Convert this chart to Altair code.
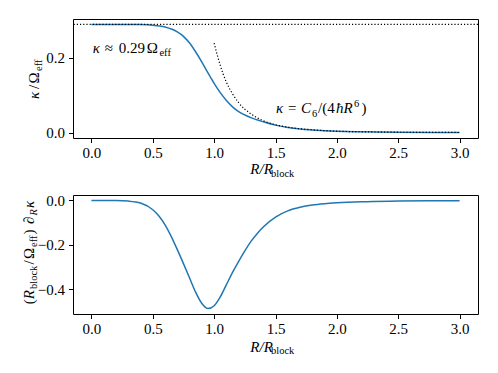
import altair as alt
import pandas as pd

# ---- data ----
R_TOP = [0.0, 0.2, 0.4, 0.5, 0.6, 0.7, 0.75, 0.8, 0.85, 0.9, 0.95, 1.0, 1.05, 1.1,
         1.15, 1.2, 1.3, 1.4, 1.5, 1.6, 1.7, 1.8, 2.0, 2.2, 2.5, 2.8, 3.0]
KAPPA = [0.290, 0.290, 0.2895, 0.288, 0.283, 0.270, 0.258, 0.240, 0.216, 0.189, 0.160,
         0.132, 0.107, 0.086, 0.069, 0.056, 0.040, 0.029, 0.020, 0.0135, 0.0097,
         0.0072, 0.0037, 0.0022, 0.0009, 0.0005, 0.0003]

R_ASYM = [1.0, 1.05, 1.1, 1.15, 1.2, 1.3, 1.4, 1.5, 1.6, 1.75, 2.0, 2.25, 2.5, 2.75, 3.0]
ASYM = [0.240, 0.180, 0.135, 0.104, 0.080, 0.050, 0.032, 0.021, 0.0145, 0.0087,
        0.0038, 0.0019, 0.0010, 0.0006, 0.0003]

PLATEAU = [0.29]

R_BOT = [0.0, 0.2, 0.3, 0.4, 0.5, 0.55, 0.6, 0.65, 0.7, 0.75, 0.8, 0.85, 0.9, 0.95,
         1.0, 1.05, 1.1, 1.15, 1.2, 1.25, 1.3, 1.35, 1.4, 1.5, 1.6, 1.7, 1.8, 1.9,
         2.0, 2.2, 2.5, 2.75, 3.0]
DKAPPA = [0.0, -0.0005, -0.003, -0.012, -0.042, -0.07, -0.11, -0.162, -0.222, -0.285,
          -0.35, -0.415, -0.465, -0.488, -0.475, -0.435, -0.38, -0.325, -0.275,
          -0.228, -0.185, -0.15, -0.12, -0.075, -0.047, -0.031, -0.021, -0.015,
          -0.011, -0.006, -0.003, -0.0015, -0.001]

X_TICKS = [0.0, 0.5, 1.0, 1.5, 2.0, 2.5, 3.0]
TOP_Y_TICKS = [0.0, 0.2]
BOT_Y_TICKS = [-0.4, -0.2, 0.0]

ANN1_POS = [0.0, 0.2134]   # "κ ≈ 0.29Ω_eff"
ANN2_POS = [1.5, 0.052]    # "κ = C6/(4ħR^6)"

# ---- styling ----
FONT = "Liberation Serif"
BLUE = "#1f77b4"
W, H = 405, 119
FS, SFS = 15, 10.5

xscale = alt.Scale(domain=[-0.15, 3.15], nice=False, zero=False)
xaxis = alt.Axis(values=X_TICKS, format=".1f", title=None)
top_yscale = alt.Scale(domain=[-0.0145, 0.3045], nice=False, zero=False)
top_yaxis = alt.Axis(values=TOP_Y_TICKS, format=".1f", title=None)
bot_yscale = alt.Scale(domain=[-0.5124, 0.0244], nice=False, zero=False)
bot_yaxis = alt.Axis(values=BOT_Y_TICKS, format=".1f", title=None)

ONE = pd.DataFrame({"a": [0]})


def px_text(t, x, y, size=FS, italic=False, angle=0):
    return alt.Chart(ONE).mark_text(
        text=t, align="left", baseline="alphabetic", font=FONT, fontSize=size,
        fontStyle="italic" if italic else "normal", angle=angle, color="black"
    ).encode(x=alt.value(x), y=alt.value(y))


def data_text(t, pos, dx, dy=0, size=FS, italic=False):
    d = pd.DataFrame({"R": [pos[0]], "k": [pos[1]]})
    return alt.Chart(d).mark_text(
        text=t, align="left", baseline="alphabetic", font=FONT, fontSize=size,
        fontStyle="italic" if italic else "normal", dx=dx, dy=dy, color="black"
    ).encode(x=alt.X("R:Q", scale=xscale, axis=xaxis),
             y=alt.Y("k:Q", scale=top_yscale, axis=top_yaxis))


# ---- top panel ----
df_top = pd.DataFrame({"R": R_TOP, "k": KAPPA})
df_asym = pd.DataFrame({"R": R_ASYM, "k": ASYM})
df_plat = pd.DataFrame({"k": PLATEAU})

top_line = alt.Chart(df_top).mark_line(
    color=BLUE, strokeWidth=1.5, interpolate="monotone"
).encode(x=alt.X("R:Q", scale=xscale, axis=xaxis),
         y=alt.Y("k:Q", scale=top_yscale, axis=top_yaxis))

asym_line = alt.Chart(df_asym).mark_line(
    color="black", strokeWidth=1.2, strokeDash=[1.2, 2], interpolate="monotone"
).encode(x=alt.X("R:Q", scale=xscale, axis=xaxis),
         y=alt.Y("k:Q", scale=top_yscale, axis=top_yaxis))

plat_rule = alt.Chart(df_plat).mark_rule(
    color="black", strokeWidth=1.2, strokeDash=[1.2, 2]
).encode(y=alt.Y("k:Q", scale=top_yscale, axis=top_yaxis))

ann1 = [
    data_text("κ", ANN1_POS, 1.3, italic=True),
    data_text("≈", ANN1_POS, 13.3),
    data_text("0.29", ANN1_POS, 27.3),
    data_text("Ω", ANN1_POS, 55.3),
    data_text("eff", ANN1_POS, 68.0, dy=3.4, size=SFS),
]
ann2 = [
    data_text("κ", ANN2_POS, 0.5, italic=True),
    data_text("=", ANN2_POS, 12.5),
    data_text("C", ANN2_POS, 25.5, italic=True),
    data_text("6", ANN2_POS, 36.5, dy=3.4, size=SFS),
    data_text("/(4", ANN2_POS, 42.5),
    data_text("ħR", ANN2_POS, 60.5, italic=True),
    data_text("6", ANN2_POS, 78.5, dy=-6, size=SFS),
    data_text(")", ANN2_POS, 86.0),
]
top_titles = [
    px_text("R/R", 177.3, 155, italic=True),
    px_text("block", 198, 157.5, size=SFS),
    px_text("κ", -34, 80, italic=True, angle=270),
    px_text("/", -34, 70, angle=270),
    px_text("Ω", -34, 64.5, angle=270),
    px_text("eff", -31.5, 52, size=SFS, angle=270),
]

top = alt.layer(top_line, asym_line, plat_rule, *ann1, *ann2, *top_titles).properties(
    width=W, height=H)

# ---- bottom panel ----
df_bot = pd.DataFrame({"R": R_BOT, "k": DKAPPA})
bot_line = alt.Chart(df_bot).mark_line(
    color=BLUE, strokeWidth=1.5, interpolate="monotone"
).encode(x=alt.X("R:Q", scale=xscale, axis=xaxis),
         y=alt.Y("k:Q", scale=bot_yscale, axis=bot_yaxis))

bx = -39
bs = -36.5
bot_titles = [
    px_text("R/R", 177.3, 156.5, italic=True),
    px_text("block", 198, 159.0, size=SFS),
    px_text("(", bx, 109.3, angle=270),
    px_text("R", bx, 104.3, italic=True, angle=270),
    px_text("block", bs, 94.0, size=SFS, angle=270),
    px_text("/", bx, 69.5, angle=270),
    px_text("Ω", bx, 64.0, angle=270),
    px_text("eff", bs, 52.0, size=SFS, angle=270),
    px_text(")", bx, 39.5, angle=270),
    px_text("∂", bx, 29.0, angle=270),
    px_text("R", bs, 20.5, size=SFS, italic=True, angle=270),
    px_text("κ", bx, 13.0, italic=True, angle=270),
]

bottom = alt.layer(bot_line, *bot_titles).properties(width=W, height=H)

chart = alt.vconcat(top, bottom, spacing=12).properties(
    padding={"left": 13, "top": 10, "right": 5, "bottom": 5}
).configure_view(
    stroke="black", strokeWidth=1
).configure_axis(
    domain=False, grid=False, tickColor="black", tickSize=4.5, tickWidth=1,
    labelFont=FONT, labelFontSize=15, labelColor="black", labelPadding=3
).configure_axisY(labelPadding=4)

chart.save("out.html", embed_options={"renderer": "svg", "actions": False})
